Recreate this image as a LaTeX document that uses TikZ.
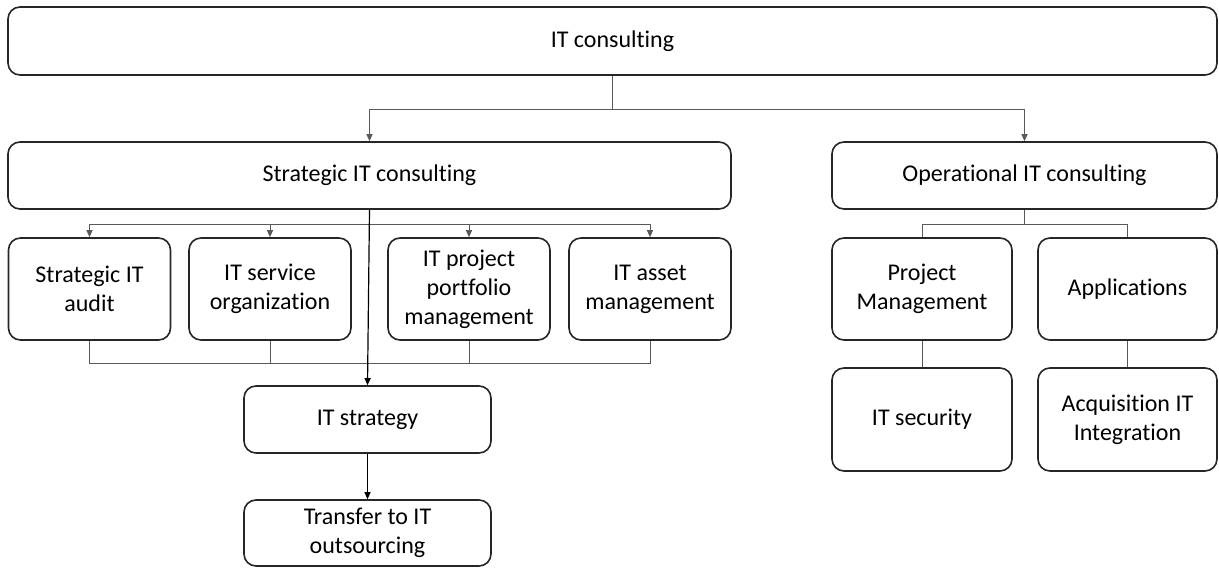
\documentclass[tikz,border=0pt]{standalone}
\usepackage{fontspec}
\setmainfont[Ligatures=NoCommon]{Carlito}
\usetikzlibrary{positioning,arrows.meta,calc}

\begin{document}
\begin{tikzpicture}[x=1pt,y=-1pt, every node/.style={align=center},
  box/.style={draw=black!85, line width=1.6pt, rounded corners=12pt, inner sep=0pt,
    font=\fontsize{24}{29}\selectfont},
  link/.style={draw=black!65, line width=1pt},
  arr/.style={link, -{Triangle[length=7pt,width=6pt]}}]
  \useasboundingbox (0,0) rectangle (1219,568);
  % top level
  \node[box, minimum width=1209pt, minimum height=68pt] (itc) at (612.5,41) {IT consulting};
  \node[box, minimum width=723pt, minimum height=67pt] (strat) at (369.5,175.5) {Strategic IT consulting};
  \node[box, minimum width=385pt, minimum height=67pt] (oper) at (1024.5,175.5) {Operational IT consulting};
  % strategic branch
  \node[box, minimum width=162pt, minimum height=102pt] (audit) at (89.5,289) {Strategic IT\\audit};
  \node[box, minimum width=162pt, minimum height=102pt] (service) at (270,289) {IT service\\organization};
  \node[box, minimum width=162pt, minimum height=102pt] (portfolio) at (469,289) {IT project\\portfolio\\management};
  \node[box, minimum width=162pt, minimum height=102pt] (asset) at (650,289) {IT asset\\management};
  \node[box, minimum width=247pt, minimum height=67pt] (itstrat) at (367.5,419.5) {IT strategy};
  \node[box, minimum width=247pt, minimum height=66pt] (transfer) at (367.5,533) {Transfer to IT\\outsourcing};
  % operational branch
  \node[box, minimum width=180pt, minimum height=102pt] (pm) at (922,289) {Project\\Management};
  \node[box, minimum width=179pt, minimum height=102pt] (apps) at (1127.5,289) {Applications};
  \node[box, minimum width=180pt, minimum height=103pt] (sec) at (922,419.5) {IT security};
  \node[box, minimum width=179pt, minimum height=103pt] (acq) at (1127.5,419.5) {Acquisition IT\\Integration};

  % bus lines
  \coordinate (topbus) at (0,109);
  \coordinate (sbus) at (0,224);
  \coordinate (bbus) at (0,363);

  \draw[arr] (itc.south) |- (topbus -| strat.north) -- (strat.north);
  \draw[arr] (itc.south) |- (topbus -| oper.north) -- (oper.north);
  \foreach \n in {audit,service,portfolio,asset}
    \draw[arr] (strat.south) |- (sbus -| \n.north) -- (\n.north);
  \draw[link] (audit.south) |- (bbus -| asset.south) -- (asset.south);
  \foreach \n in {service,portfolio}
    \draw[link] (\n.south) -- (\n.south |- bbus);
  \draw[arr, draw=black, line width=1.2pt] (strat.south) -- (itstrat.north);
  \draw[arr, draw=black] (itstrat.south) -- (transfer.north);
  \draw[link] (oper.south) |- (sbus -| pm.north) -- (pm.north);
  \draw[link] (oper.south) |- (sbus -| apps.north) -- (apps.north);
  \draw[link] (pm.south) -- (sec.north);
  \draw[link] (apps.south) -- (acq.north);
\end{tikzpicture}
\end{document}
